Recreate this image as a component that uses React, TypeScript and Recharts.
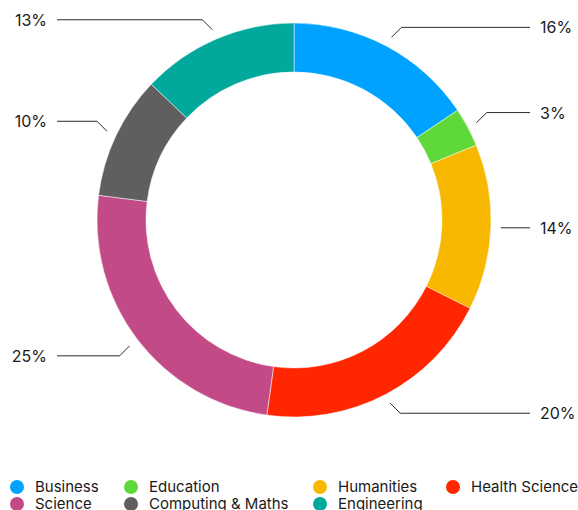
import { Cell, Legend, Pie, PieChart } from 'recharts';

// Donut of enrolment share by faculty, with elbow leader lines out to
// edge-aligned percentage labels and a gridded legend underneath.

const faculties = [
  'Business',
  'Education',
  'Humanities',
  'Health Science',
  'Science',
  'Computing & Maths',
  'Engineering',
];
const shares = [15.6, 3.2, 13.6, 19.8, 24.8, 10.1, 12.9];
const colours = [
  '#00a2ff',
  '#5fd939',
  '#f8b800',
  '#ff2600',
  '#c24b87',
  '#5f5f5f',
  '#02a89b',
];

const data = faculties.map((name, i) => ({ name, value: shares[i] }));

const FONT = 'Inter, "Noto Sans", sans-serif';
const RADIAN = Math.PI / 180;

const renderLabel = (props: any) => {
  const { cx, cy, midAngle, outerRadius, percent, index } = props;
  const cos = Math.cos(-midAngle * RADIAN);
  const sin = Math.sin(-midAngle * RADIAN);
  const right = cos >= 0;
  const sx = cx + (outerRadius + 10) * cos;
  const sy = cy + (outerRadius + 10) * sin;
  // near-horizontal slices get a flat leader, the rest a 45° crook
  const flat = Math.abs(sin) < 0.1;
  const ex = flat ? sx : sx + (right ? 10 : -10);
  const ey = flat ? sy : sy + Math.sign(sin) * 10;
  const hx = right ? 530 : 57;
  const tx = right ? 540 : 47;
  return (
    <g key={`lbl-${index}`}>
      <path
        d={`M${sx},${sy}L${ex},${ey}L${hx},${ey}`}
        stroke='#2a2a2a'
        strokeWidth={1}
        fill='none'
      />
      <text
        x={tx}
        y={ey}
        textAnchor={right ? 'start' : 'end'}
        dominantBaseline='central'
        fill='#1a1a1a'
        fontSize={16}
        fontFamily={FONT}
      >
        {`${Math.round(percent * 100)}%`}
      </text>
    </g>
  );
};

const renderLegend = () => (
  <div
    style={{
      display: 'grid',
      gridTemplateColumns: '114px 189px 133px auto',
      justifyContent: 'start',
      fontFamily: FONT,
      fontSize: 15,
      lineHeight: '17px',
      color: '#1a1a1a',
      paddingLeft: 10,
    }}
  >
    {faculties.map((name, i) => (
      <div
        key={name}
        style={{ display: 'flex', alignItems: 'center', whiteSpace: 'nowrap' }}
      >
        <span
          style={{
            display: 'inline-block',
            flex: 'none',
            width: 14,
            height: 14,
            borderRadius: '50%',
            background: colours[i],
            marginRight: 11,
          }}
        />
        {name}
      </div>
    ))}
  </div>
);

export default function App() {
  return (
    <div style={{ position: 'absolute', left: 0, top: 0 }}>
      <PieChart
        width={578}
        height={510}
        margin={{ top: 0, right: 0, bottom: 0, left: 0 }}
      >
        <Pie
          data={data}
          dataKey='value'
          nameKey='name'
          cx={294}
          cy={220}
          innerRadius={148}
          outerRadius={197}
          startAngle={90}
          endAngle={-270}
          stroke='#fff'
          strokeWidth={0.5}
          label={renderLabel}
          labelLine={false}
          isAnimationActive={false}
        >
          {data.map((d, i) => (
            <Cell key={d.name} fill={colours[i]} />
          ))}
        </Pie>
        <Legend
          content={renderLegend}
          wrapperStyle={{ left: 0, top: 478, bottom: 'auto', width: 578 }}
        />
      </PieChart>
    </div>
  );
}
